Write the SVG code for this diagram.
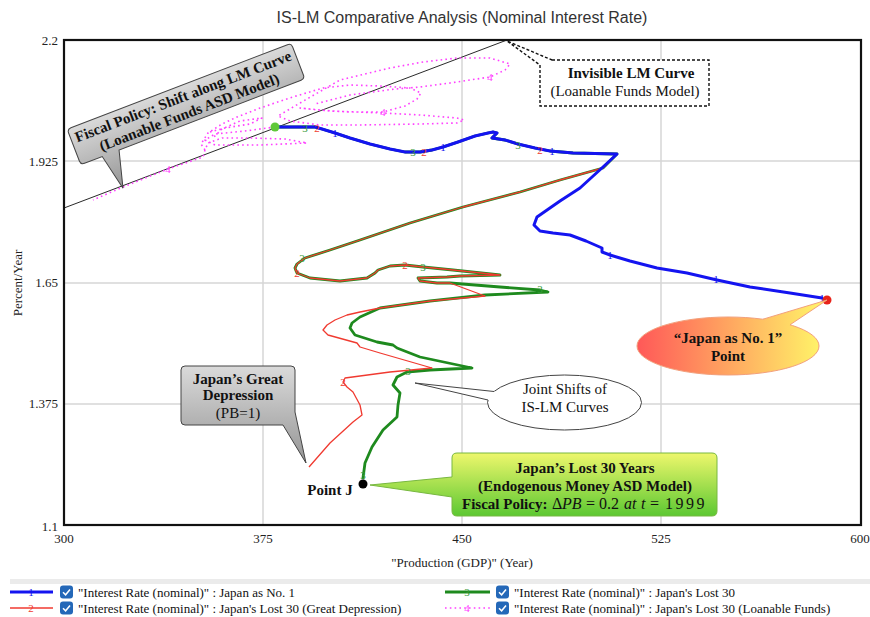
<svg xmlns="http://www.w3.org/2000/svg" width="870" height="617" viewBox="0 0 870 617">
<style>
.t{font-family:"Liberation Serif","Times New Roman",serif;fill:#111}
.tick{font-family:"Liberation Serif",serif;font-size:13px;fill:#222}
.grid{stroke:#d6d6d6;stroke-width:1.5;fill:none}
.c1{stroke:#1414f0;stroke-width:3;fill:none;stroke-linejoin:round;stroke-linecap:round}
.c2{stroke:#f03a30;stroke-width:1.3;fill:none;stroke-linejoin:round}
.c3{stroke:#1e8a1e;stroke-width:2.8;fill:none;stroke-linejoin:round;stroke-linecap:round}
.c4{stroke:#ff40ff;stroke-width:1.6;fill:none;stroke-dasharray:1.6 3.2;stroke-linejoin:round}
.lab{font-family:"Liberation Serif",serif;font-size:11px;text-anchor:middle}
.leg{font-family:"Liberation Serif",serif;font-size:13px;fill:#111}
.b{font-weight:bold}
.m{font-size:16px}
.mi{font-size:16px;font-style:italic}
</style>
<defs>
<linearGradient id="gGray" x1="0" y1="0" x2="0" y2="1"><stop offset="0" stop-color="#dadada"/><stop offset="1" stop-color="#959595"/></linearGradient>
<linearGradient id="gGreen" x1="0" y1="0" x2="0" y2="1"><stop offset="0" stop-color="#eef76c"/><stop offset="1" stop-color="#5cc832"/></linearGradient>
<linearGradient id="gRY" gradientUnits="userSpaceOnUse" x1="637" y1="0" x2="819" y2="0"><stop offset="0" stop-color="#ff5858"/><stop offset="1" stop-color="#fff268"/></linearGradient>
<g id="chk"><rect x="0" y="0" width="13" height="13" rx="3" fill="#2468b8"/><path d="M3,6.8 L5.6,9.3 L10,4" stroke="#fff" stroke-width="1.5" fill="none"/></g>
</defs>
<rect width="870" height="617" fill="#fff"/>
<text x="462" y="23" font-family="Liberation Sans,Arial,sans-serif" font-size="16" fill="#333" text-anchor="middle">IS-LM Comparative Analysis (Nominal Interest Rate)</text>

<g id="grid">
<path class="grid" d="M263,40V525M462,40V525M661,40V525M64,161H861M64,283H861M64,404H861"/>
</g>
<g id="axes">
<text class="tick" x="58" y="45" text-anchor="end">2.2</text>
<text class="tick" x="58" y="166" text-anchor="end">1.925</text>
<text class="tick" x="58" y="287" text-anchor="end">1.65</text>
<text class="tick" x="58" y="408" text-anchor="end">1.375</text>
<text class="tick" x="58" y="531" text-anchor="end">1.1</text>
<text class="tick" x="64" y="543" text-anchor="middle">300</text>
<text class="tick" x="263" y="543" text-anchor="middle">375</text>
<text class="tick" x="462" y="543" text-anchor="middle">450</text>
<text class="tick" x="661" y="543" text-anchor="middle">525</text>
<text class="tick" x="860" y="543" text-anchor="middle">600</text>
<text class="tick" x="462" y="567" text-anchor="middle">"Production (GDP)" (Year)</text>
<text class="tick" transform="translate(22,283) rotate(-90)" text-anchor="middle">Percent/Year</text>
</g>

<g id="connectors">
<line id="lm-line" x1="64" y1="208" x2="507" y2="40" stroke="#111" stroke-width="0.9"/>
<g id="curve4">
<polyline class="c4" points="275,127 245,131 215,134 205,140 215,145 260,145 307,143 285,139 250,138 222,138 208,143 205,150 203,157 168,169 123,187 93,200"/>
<polyline class="c4" points="205,150 201,144 208,133 222,124 237,117 260,108 293,97 323,88 350,85 380,86 410,88 421,93 417,99 405,106 383,112 350,112 318,110 300,108 330,111 383,113 420,115 457,118 464,120 457,123 420,124 360,125 320,125 290,121 278,116 300,103 340,80 390,68 423,62 457,58 490,58 510,64 505,70 490,77 450,83 420,87 395,89 350,95 315,104"/>
<polyline class="c4" points="210,132 225,128 250,124 262,118 240,121 222,129 212,139"/>
</g>
<polyline id="curve3" class="c3" points="275,127 315,127 322,129 335,133 350,138 370,144 390,149 405,152 420,152 432,150 443,147 458,142 475,136 488,133 493,132 497,133 492,138 505,140 518,144 535,148 550,151 573,153 617,154 603,168 560,180 520,192 463,207 410,223 360,240 330,250 305,258 297,264 295,268 297,273 310,278 340,281 367,278 375,273 378,270 390,266 405,265 423,267 453,270 500,275 460,276 447,277 418,278 420,281 437,283 450,283 500,287 540,290 548,292 485,295 430,301 380,308 360,317 352,323 350,328 355,335 377,342 393,345 397,348 420,357 472,368 430,370 407,372 397,377 393,385 400,393 398,405 397,417 383,430 372,447 365,463 363,478"/>
<polyline id="curve2" class="c2" points="275,127 315,127 322,129 335,133 350,138 370,144 390,149 405,152 420,152 432,150 443,147 458,142 475,136 488,133 493,132 497,133 492,138 505,140 518,144 535,148 550,151 573,153 617,154 603,168 560,180 520,192 463,207 410,223 360,240 330,250 305,258 297,264 295,268 297,273 310,278 340,281 367,278 375,273 378,270 390,266 405,265 423,267 453,270 500,275 460,276 447,277 418,278 420,281 437,283 450,283 485,296 430,301 380,308 360,312 347,315 335,320 327,325 323,330 328,335 357,343 360,347 380,353 432,368 390,372 345,378 343,382 347,387 353,392 360,405 362,415 353,422 330,443 309,467"/>
<polyline id="curve1" class="c1" points="275,127 315,127 322,129 335,133 350,138 370,144 390,149 405,152 420,152 432,150 443,147 458,142 475,136 488,133 493,132 497,133 492,138 505,140 518,144 535,148 550,151 573,153 617,154 603,167 580,188 560,201 537,217 534,225 540,231 553,233 570,235 586,241 602,248 602,252 610,255 630,261 657,268 687,273 717,280 750,287 790,293 822,298"/>
<g id="curve-labels">
<g fill="#1414f0"><text class="lab" x="335" y="137">1</text><text class="lab" x="443" y="151">1</text><text class="lab" x="552" y="155">1</text><text class="lab" x="610" y="259">1</text><text class="lab" x="716" y="283">1</text><text class="lab" x="822" y="302">1</text></g>
<g fill="#f03a30"><text class="lab" x="317" y="132">2</text><text class="lab" x="424" y="156">2</text><text class="lab" x="540" y="154">2</text><text class="lab" x="297" y="277">2</text><text class="lab" x="405" y="269">2</text><text class="lab" x="343" y="386">2</text></g>
<g fill="#3a9a3a"><text class="lab" x="305" y="132">3</text><text class="lab" x="413" y="156">3</text><text class="lab" x="518" y="149">3</text><text class="lab" x="302" y="262">3</text><text class="lab" x="423" y="271">3</text><text class="lab" x="540" y="293">3</text><text class="lab" x="408" y="375">3</text><text class="lab" x="363" y="479">3</text></g>
<g fill="#ff40ff"><text class="lab" x="168" y="173">4</text><text class="lab" x="383" y="116">4</text><text class="lab" x="490" y="81">4</text></g>
</g>
</g>

<g id="points">
<circle cx="275" cy="127" r="4.5" fill="#5ec838"/>
<circle cx="827" cy="300" r="4.5" fill="#e8231a"/>
<circle cx="363" cy="484" r="4.5" fill="#000"/>
</g>

<g id="node-fiscal" transform="translate(186,104) rotate(-21)">
<path d="M-116,-19 H116 Q120,-19 120,-15 V15 Q120,19 116,19 H-79 L-89,56 L-97,19 H-116 Q-120,19 -120,15 V-15 Q-120,-19 -116,-19 Z" fill="url(#gGray)" stroke="#444" stroke-width="1"/>
<text class="t b" x="0" y="-3" font-size="15" text-anchor="middle">Fiscal Policy: Shift along LM Curve</text>
<text class="t b" x="0" y="14" font-size="15" text-anchor="middle">(Loanable Funds ASD Model)</text>
</g>

<g id="node-invisible-lm">
<path d="M552,60 H709 V106 H540 V65 L507,41 Z" fill="#fff" stroke="#111" stroke-width="1.4" stroke-dasharray="3 2"/>
<text class="t b" x="631" y="78" font-size="15" text-anchor="middle">Invisible LM Curve</text>
<text class="t" x="625" y="96" font-size="15" text-anchor="middle">(Loanable Funds Model)</text>
</g>

<g id="node-japan-no1">
<ellipse cx="728" cy="346" rx="91" ry="29" fill="url(#gRY)" stroke="#f2a07c" stroke-width="1"/>
<polygon points="827,300 763,319.2 765,326 788,330 790,324.8" fill="url(#gRY)"/>
<path d="M763,319.2 L827,300 L790,324.8" fill="none" stroke="#f2a07c" stroke-width="1"/>
<text class="t b" x="728" y="343" font-size="15" text-anchor="middle">“Japan as No. 1”</text>
<text class="t b" x="728" y="361" font-size="15" text-anchor="middle">Point</text>
</g>

<g id="node-joint-shifts">
<ellipse cx="564.5" cy="402.5" rx="77" ry="27.5" fill="#fff" stroke="#444" stroke-width="1"/>
<polygon points="415,383 494,391.5 500,393 498,401 488,400" fill="#fff"/>
<path d="M494,391.5 L415,383 L488,400" fill="none" stroke="#444" stroke-width="1"/>
<text class="t" x="565" y="394" font-size="15" text-anchor="middle">Joint Shifts of</text>
<text class="t" x="565" y="412" font-size="15" text-anchor="middle">IS-LM Curves</text>
</g>

<g id="node-great-depression">
<path d="M185,366 H291 Q295,366 295,370 V412 L306,463 L283,425 H185 Q181,425 181,421 V370 Q181,366 185,366 Z" fill="url(#gGray)" stroke="#444" stroke-width="1"/>
<text class="t b" x="238" y="384" font-size="15" text-anchor="middle">Japan’s Great</text>
<text class="t b" x="238" y="400" font-size="15" text-anchor="middle">Depression</text>
<text class="t" x="238" y="418" font-size="15" text-anchor="middle">(PB=1)</text>
</g>

<g id="node-lost30">
<path d="M457,453 H712 Q717,453 717,458 V511 Q717,516 712,516 H457 Q452,516 452,511 V497 L370,485 L452,477 V458 Q452,453 457,453 Z" fill="url(#gGreen)" stroke="#78b840" stroke-width="1"/>
<text class="t b" x="585" y="473" font-size="15" text-anchor="middle">Japan’s Lost 30 Years</text>
<text class="t b" x="585" y="491" font-size="15" text-anchor="middle">(Endogenous Money ASD Model)</text>
<text class="t" y="509" font-size="15"><tspan x="462" font-weight="bold">Fiscal Policy:</tspan><tspan class="m" x="552">Δ</tspan><tspan class="mi" x="562">PB</tspan><tspan class="m" x="586">=</tspan><tspan class="m" x="599">0.2</tspan><tspan class="mi" x="624">at</tspan><tspan class="mi" x="641">t</tspan><tspan class="m" x="650">=</tspan><tspan class="m" x="665" letter-spacing="2.5">1999</tspan></text>
</g>

<g id="node-point-j">
<text class="t b" x="330" y="495" font-size="15" text-anchor="middle">Point J</text>
</g>

<rect id="frame" x="64" y="40" width="797" height="485" fill="none" stroke="#111" stroke-width="2.2"/>

<g id="legend">
<rect x="10" y="579" width="860" height="5" fill="#ebebeb"/>
<line x1="10" y1="592" x2="53" y2="592" stroke="#1414f0" stroke-width="3"/>
<text class="lab" x="31" y="596" fill="#1414f0">1</text>
<use href="#chk" x="60" y="585.5"/>
<text class="leg" x="78" y="596.5">"Interest Rate (nominal)" : Japan as No. 1</text>
<line x1="10" y1="608" x2="53" y2="608" stroke="#f03a30" stroke-width="1.3"/>
<text class="lab" x="31" y="612" fill="#f03a30">2</text>
<use href="#chk" x="60" y="601.5"/>
<text class="leg" x="78" y="612.5">"Interest Rate (nominal)" : Japan's Lost 30 (Great Depression)</text>
<line x1="445" y1="592" x2="490" y2="592" stroke="#1e8a1e" stroke-width="2.8"/>
<text class="lab" x="467" y="596" fill="#3a9a3a">3</text>
<use href="#chk" x="496" y="585.5"/>
<text class="leg" x="514" y="596.5">"Interest Rate (nominal)" : Japan's Lost 30</text>
<line x1="445" y1="608" x2="490" y2="608" class="c4"/>
<text class="lab" x="467" y="612" fill="#ff40ff">4</text>
<use href="#chk" x="496" y="601.5"/>
<text class="leg" x="514" y="612.5">"Interest Rate (nominal)" : Japan's Lost 30 (Loanable Funds)</text>
</g>
</svg>
